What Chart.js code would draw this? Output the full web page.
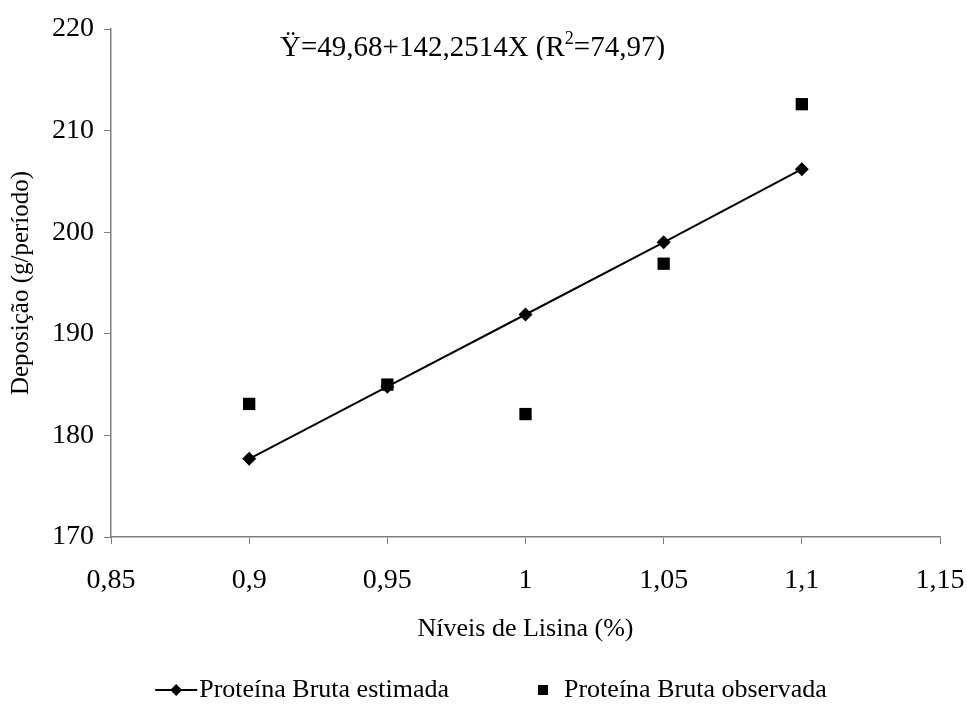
<!DOCTYPE html>
<html>
<head>
<meta charset="utf-8">
<script src="https://cdn.jsdelivr.net/npm/chart.js@4"></script>
<style>
  html, body { margin: 0; padding: 0; background: #fff; }
  #box { width: 967px; height: 709px; }
</style>
</head>
<body>
<div id="box"><canvas id="grafico"></canvas></div>
<script>
// niveis de lisina (%)
const niveisLisina = [0.9, 0.95, 1.0, 1.05, 1.1];
// deposicao de proteina bruta (g/periodo)
const pbEstimada = [177.7, 184.8, 191.9, 199.0, 206.2];
const pbObservada = [183.1, 185.0, 182.1, 196.9, 212.6];

const xTicks = [0.85, 0.9, 0.95, 1.0, 1.05, 1.1, 1.15];
const xTickLabels = ['0,85', '0,9', '0,95', '1', '1,05', '1,1', '1,15'];
const yTicks = [170, 180, 190, 200, 210, 220];

const nomeEstimada = 'Proteína Bruta estimada';
const nomeObservada = 'Proteína Bruta observada';
const equacao = ['Ÿ=49,68+142,2514X (R', '2', '=74,97)'];

const fonte = "'Liberation Serif', 'Times New Roman', serif";
const corEixo = '#7f7f7f';

// equacao no topo do grafico
const pluginEquacao = {
  id: 'equacao',
  afterDraw(chart) {
    const ctx = chart.ctx;
    ctx.save();
    ctx.beginPath();
    ctx.rect(0, 0, chart.width, 60);
    ctx.clip();
    ctx.fillStyle = '#000';
    ctx.textBaseline = 'alphabetic';
    let x = 280;
    const y = 56;
    ctx.font = '29px ' + fonte;
    ctx.fillText(equacao[0], x, y);
    x += ctx.measureText(equacao[0]).width;
    ctx.font = '18px ' + fonte;
    ctx.fillText(equacao[1], x, y - 12);
    x += ctx.measureText(equacao[1]).width;
    ctx.font = '29px ' + fonte;
    ctx.fillText(equacao[2], x, y);
    ctx.restore();
  }
};

// legenda desenhada a mao (linha + losango, quadrado)
const pluginLegenda = {
  id: 'legendaPB',
  afterDraw(chart) {
    const ctx = chart.ctx;
    ctx.save();
    ctx.font = '26px ' + fonte;
    ctx.fillStyle = '#000';
    ctx.strokeStyle = '#000';
    ctx.textBaseline = 'middle';
    const y = 690;
    const w1 = ctx.measureText(nomeEstimada).width;
    const w2 = ctx.measureText(nomeObservada).width;
    const larguraTotal = 42 + 2 + w1 + 94 + 21 + w2;
    let x = 491 - larguraTotal / 2;
    // linha + losango
    ctx.lineWidth = 2;
    ctx.beginPath();
    ctx.moveTo(x, y);
    ctx.lineTo(x + 42, y);
    ctx.stroke();
    ctx.beginPath();
    ctx.moveTo(x + 21, y - 6);
    ctx.lineTo(x + 27, y);
    ctx.lineTo(x + 21, y + 6);
    ctx.lineTo(x + 15, y);
    ctx.closePath();
    ctx.fill();
    x += 44;
    ctx.fillText(nomeEstimada, x, y);
    x += w1 + 94;
    // quadrado
    ctx.fillRect(x - 5, y - 5, 10, 10);
    x += 21;
    ctx.fillText(nomeObservada, x, y);
    ctx.restore();
  }
};

const ctx = document.getElementById('grafico').getContext('2d');
new Chart(ctx, {
  type: 'scatter',
  data: {
    datasets: [
      {
        label: nomeEstimada,
        data: niveisLisina.map((x, i) => ({ x: x, y: pbEstimada[i] })),
        showLine: true,
        borderColor: '#000',
        borderWidth: 2,
        backgroundColor: '#000',
        pointStyle: 'rectRot',
        pointRadius: 7,
        pointBorderWidth: 0,
        order: 2
      },
      {
        label: nomeObservada,
        data: niveisLisina.map((x, i) => ({ x: x, y: pbObservada[i] })),
        showLine: false,
        borderColor: '#000',
        backgroundColor: '#000',
        pointStyle: 'rect',
        pointRadius: 8.7,
        pointBorderWidth: 0,
        order: 1
      }
    ]
  },
  options: {
    responsive: true,
    maintainAspectRatio: false,
    animation: false,
    layout: { padding: { left: 0, right: 27, top: 29, bottom: 0 } },
    plugins: {
      legend: { display: false },
      tooltip: { enabled: false }
    },
    scales: {
      x: {
        type: 'linear',
        min: 0.85,
        max: 1.15,
        afterBuildTicks: (scale) => { scale.ticks = xTicks.map(v => ({ value: v })); },
        afterFit: (scale) => {
          scale.height = 172;
          scale.paddingLeft = 0;
          scale.paddingRight = 0;
        },
        ticks: {
          color: '#000',
          font: { family: fonte, size: 28 },
          padding: 20,
          maxRotation: 0,
          callback: (value, index) => xTickLabels[index]
        },
        grid: { drawOnChartArea: false, drawTicks: true, tickLength: 7, color: corEixo },
        border: { color: corEixo, width: 1.5 },
        title: {
          display: true,
          text: 'Níveis de Lisina (%)',
          color: '#000',
          font: { family: fonte, size: 26 },
          padding: { top: 0, bottom: 64 }
        }
      },
      y: {
        min: 170,
        max: 220,
        afterBuildTicks: (scale) => { scale.ticks = yTicks.map(v => ({ value: v })); },
        afterFit: (scale) => { scale.width = 111; },
        ticks: {
          color: '#000',
          font: { family: fonte, size: 28 },
          padding: 10
        },
        grid: { drawOnChartArea: false, drawTicks: true, tickLength: 7, color: corEixo },
        border: { color: corEixo, width: 1.5 },
        title: {
          display: true,
          text: 'Deposição (g/período)',
          color: '#000',
          font: { family: fonte, size: 25 },
          padding: { top: 6, bottom: 0 }
        }
      }
    }
  },
  plugins: [pluginEquacao, pluginLegenda]
});
</script>
</body>
</html>
